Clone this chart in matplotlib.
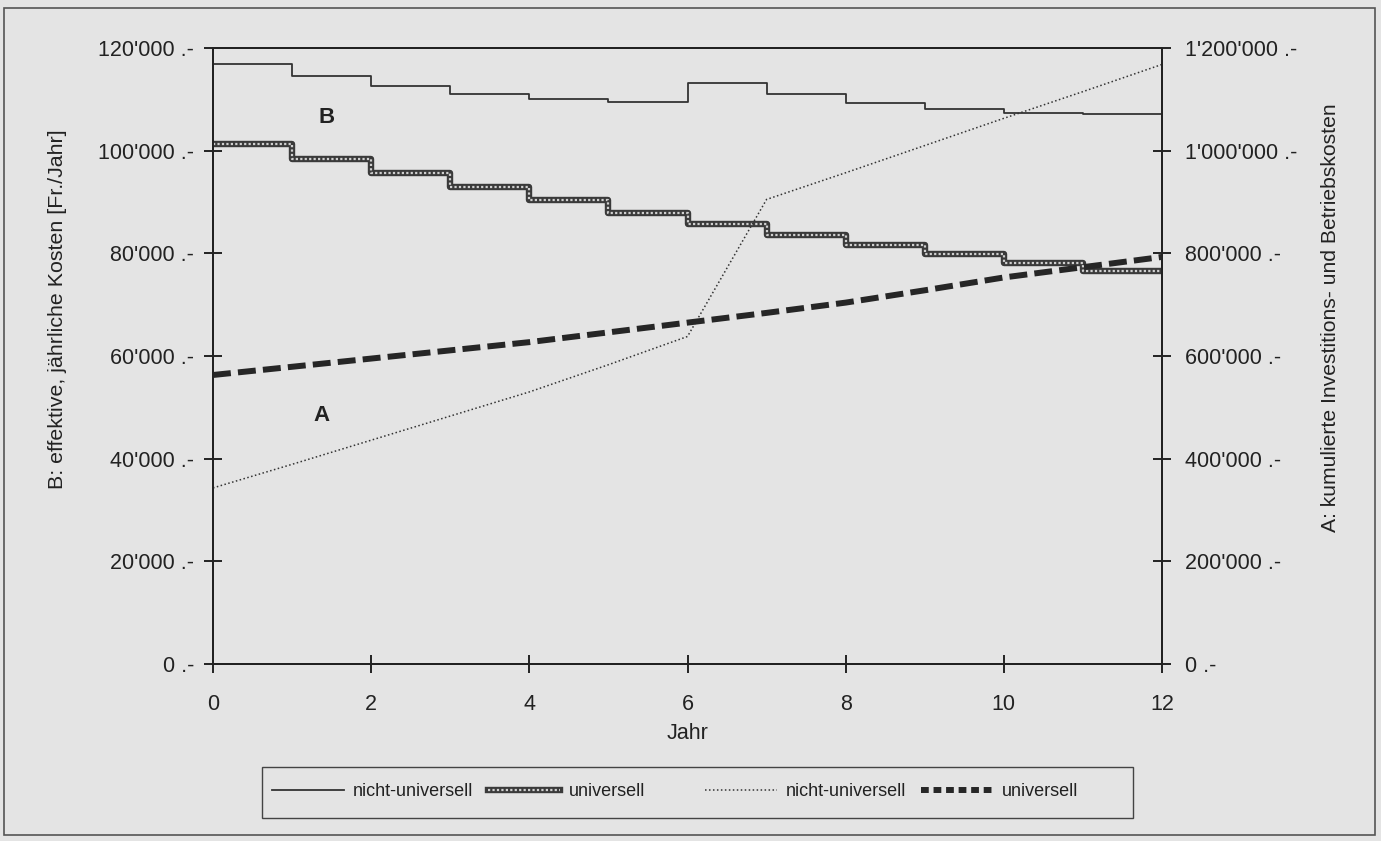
import matplotlib.pyplot as plt
from matplotlib.lines import Line2D
from matplotlib.patches import Rectangle
from matplotlib.ticker import FuncFormatter

# ====== data ======
jahre = list(range(13))

# B: effective yearly costs (step per year, 12 segments)
b_nicht_universell = [116900, 114500, 112600, 111000, 110000, 109500,
                      113200, 111000, 109300, 108100, 107300, 107100]
b_universell = [101300, 98300, 95700, 92900, 90400, 87900,
                85700, 83600, 81600, 79800, 78100, 76500]

# A: cumulative investment and operating costs
a_nicht_universell = [343000, 389000, 436000, 483000, 530000, 583000, 638000,
                      905000, 957000, 1010000, 1063000, 1115000, 1168000]
a_universell = [563000, 579000, 595000, 611000, 627000, 646000, 665000,
                684000, 704000, 728000, 753000, 773000, 793000]

bg = "#e4e4e4"
ink = "#222222"
plt.rcParams["font.family"] = ["Liberation Sans", "DejaVu Sans"]


def chf(v, pos=None):
    return f"{int(v):,}".replace(",", "'") + " .-"


fig = plt.figure(figsize=(13.81, 8.41), dpi=100, facecolor=bg)
ax = fig.add_axes([213 / 1381, 1 - 664 / 841, 949 / 1381, 616 / 841], facecolor=bg)
ax2 = ax.twinx()

# step series need the last value repeated for where="post"
bn = b_nicht_universell + b_nicht_universell[-1:]
bu = b_universell + b_universell[-1:]

ax.step(jahre, bn, where="post", color="#333333", lw=1.3, zorder=3)
ax.step(jahre, bu, where="post", color="#3a3a3a", lw=4.6, zorder=3)
ax.step(jahre, bu, where="post", color="#d0d0d0", lw=1.6, dashes=(1, 1), zorder=4)

ax2.plot(jahre, a_nicht_universell, color="#333333", lw=1.1, dashes=(1, 1.6))
ax2.plot(jahre, a_universell, color="#262626", lw=4.3, dashes=(3.0, 1.2))

# axes
ax.set_xlim(0, 12)
ax.set_ylim(0, 120000)
ax2.set_ylim(0, 1200000)
ax.set_xticks(range(0, 13, 2))
ax.set_yticks(range(0, 120001, 20000))
ax2.set_yticks(range(0, 1200001, 200000))
ax.yaxis.set_major_formatter(FuncFormatter(chf))
ax2.yaxis.set_major_formatter(FuncFormatter(chf))

for a in (ax, ax2):
    for s in a.spines.values():
        s.set_color(ink)
        s.set_linewidth(1.4)
ax.tick_params(axis="y", direction="inout", length=13.5, width=1.4, color=ink,
               labelsize=15.5, pad=7, labelcolor=ink)
ax2.tick_params(axis="y", direction="inout", length=13.5, width=1.4, color=ink,
                labelsize=15.5, pad=10, labelcolor=ink)
ax.tick_params(axis="x", direction="inout", length=13, width=1.4, color=ink,
               labelsize=15.5, pad=15, labelcolor=ink)

ax.set_xlabel("Jahr", fontsize=15.5, color=ink, labelpad=6)

fig.text(58 / 1381, 1 - 309 / 841, "B: effektive, jährliche Kosten [Fr./Jahr]",
         rotation=90, ha="center", va="center", fontsize=15.4, color=ink)
fig.text(1330 / 1381, 1 - 318 / 841, "A: kumulierte Investitions- und Betriebskosten",
         rotation=90, ha="center", va="center", fontsize=15.2, color=ink)

# curve markers
ax.text(1.43, 106400, "B", fontsize=16, fontweight="bold", ha="center", va="center", color=ink)
ax.text(1.37, 48500, "A", fontsize=16, fontweight="bold", ha="center", va="center", color=ink)

# outer frame and legend box
fig.patches.append(Rectangle((4 / 1381, 6 / 841), 1371 / 1381, 827 / 841,
                             transform=fig.transFigure, fill=False, ec="#555555", lw=1.2))
fig.patches.append(Rectangle((262 / 1381, 1 - 818 / 841), 871 / 1381, 51 / 841,
                             transform=fig.transFigure, fc=bg, ec="#444444", lw=1.0))

h_bn = Line2D([], [], color="#333333", lw=1.3)
h_bu = (Line2D([], [], color="#3a3a3a", lw=4.6),
        Line2D([], [], color="#d0d0d0", lw=1.6, dashes=(1, 1)))
h_an = Line2D([], [], color="#333333", lw=1.1, dashes=(1, 1.6))
h_au = Line2D([], [], color="#262626", lw=4.3, dashes=(1.3, 0.8))

leg_kw = dict(frameon=False, ncol=2, handlelength=4.0, handletextpad=0.5,
              columnspacing=0.8, prop={"size": 13},
              loc="center left", borderaxespad=0, borderpad=0)
leg1 = fig.legend([h_bn, h_bu], ["nicht-universell", "universell"],
                  bbox_to_anchor=(272 / 1381, 1 - 792 / 841), **leg_kw)
leg2 = fig.legend([h_an, h_au], ["nicht-universell", "universell"],
                  bbox_to_anchor=(705 / 1381, 1 - 792 / 841), **leg_kw)
for lg in (leg1, leg2):
    for t in lg.get_texts():
        t.set_color(ink)

fig.savefig("out.png", dpi=100, facecolor=bg)
